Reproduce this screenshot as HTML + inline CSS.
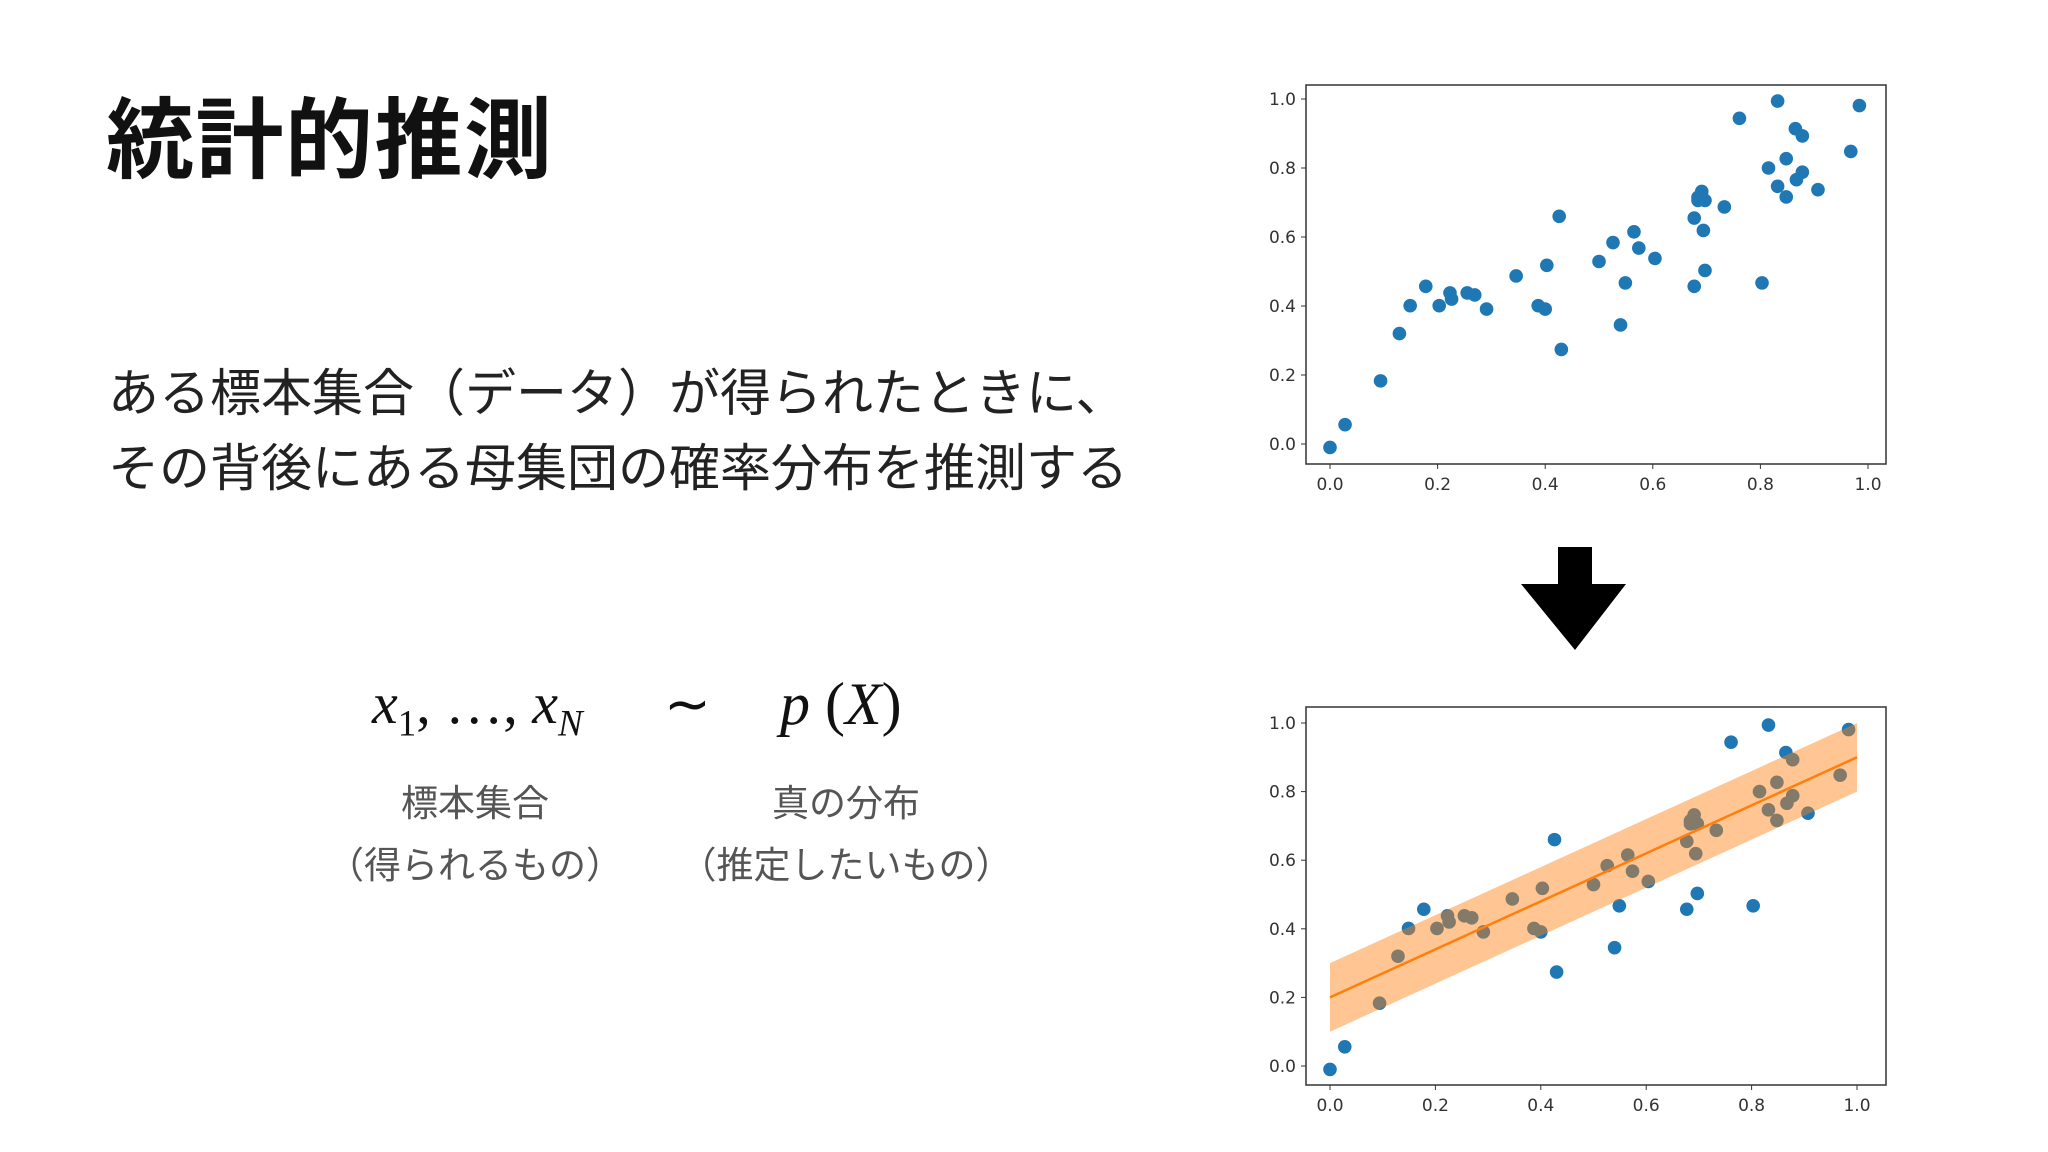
<!DOCTYPE html>
<html><head><meta charset="utf-8">
<style>
body{margin:0;background:#fff;}
#page{position:relative;width:2048px;height:1152px;overflow:hidden;background:#fff;font-family:"Liberation Sans","Noto Sans CJK JP",sans-serif;}
.t{position:absolute;white-space:nowrap;}
</style></head>
<body>
<div id="page">
<div class="t" style="left:106px;top:70px;font-size:88px;font-weight:bold;color:#111;letter-spacing:1.5px;">統計的推測</div>
<div class="t" style="left:108px;top:352px;font-size:51px;color:#222;">ある標本集合（データ）が得られたときに、</div>
<div class="t" style="left:108px;top:427px;font-size:51px;color:#222;">その背後にある母集団の確率分布を推測する</div>
<div class="t" style="left:372px;top:670px;font-size:58px;font-family:'Liberation Serif',serif;font-style:italic;color:#111;">x<sub style="font-size:37px;font-style:normal">1</sub><span style="font-style:normal">, …, </span>x<sub style="font-size:37px">N</sub></div>
<div class="t" style="left:664px;top:672px;font-size:56px;font-family:'Liberation Serif',serif;color:#111;">∼</div>
<div class="t" style="left:780px;top:670px;font-size:60px;font-family:'Liberation Serif',serif;font-style:italic;color:#111;">p <span style="font-style:normal">(</span>X<span style="font-style:normal">)</span></div>
<div class="t" style="left:475px;top:773px;transform:translateX(-50%);font-size:37px;color:#555;">標本集合</div>
<div class="t" style="left:475px;top:835px;transform:translateX(-50%);font-size:37px;color:#555;">（得られるもの）</div>
<div class="t" style="left:846px;top:773px;transform:translateX(-50%);font-size:37px;color:#555;">真の分布</div>
<div class="t" style="left:846px;top:835px;transform:translateX(-50%);font-size:37px;color:#555;">（推定したいもの）</div>
<svg id="arrow" style="position:absolute;left:0;top:0" width="2048" height="1152">
<polygon points="1558,547 1592,547 1592,584 1626,584 1575,650 1521,584 1558,584" fill="#000"/>
</svg>
<svg id="charts" style="position:absolute;left:0;top:0" width="2048" height="1152"></svg>
</div>
<script>
const xs=[0.0,0.028,0.094,0.129,0.149,0.178,0.203,0.223,0.226,0.255,0.269,0.291,0.346,0.387,0.4,0.403,0.426,0.43,0.5,0.526,0.54,0.549,0.565,0.574,0.604,0.677,0.677,0.684,0.691,0.684,0.697,0.694,0.697,0.733,0.761,0.803,0.815,0.832,0.832,0.848,0.848,0.865,0.867,0.878,0.878,0.907,0.968,0.984];
const ys=[-0.01,0.056,0.183,0.32,0.401,0.457,0.401,0.438,0.42,0.438,0.432,0.391,0.487,0.401,0.391,0.518,0.66,0.274,0.529,0.584,0.345,0.467,0.615,0.568,0.538,0.655,0.457,0.715,0.732,0.706,0.706,0.619,0.503,0.687,0.944,0.467,0.8,0.994,0.747,0.827,0.716,0.914,0.766,0.788,0.893,0.737,0.848,0.981];
const ticks=[0.0,0.2,0.4,0.6,0.8,1.0];
const fitIntercept=0.2, fitSlope=0.7, bandHalf=0.1;
const svg=document.getElementById('charts');
const NS='http://www.w3.org/2000/svg';
function mk(t,a){const e=document.createElementNS(NS,t);for(const k in a)e.setAttribute(k,a[k]);svg.appendChild(e);return e;}
function chart(cfg,fit,name){
  const X=v=>cfg.x0+(cfg.x1-cfg.x0)*v, Y=v=>cfg.y0+(cfg.y1-cfg.y0)*v;
  const fr=mk('rect',{x:cfg.fx,y:cfg.fy,width:cfg.fw,height:cfg.fh,fill:'#fff',stroke:'#333','stroke-width':1.5});
  
  
  ticks.forEach(t=>{
    let a=mk('line',{x1:X(t),x2:X(t),y1:cfg.fy+cfg.fh,y2:cfg.fy+cfg.fh+5,stroke:'#333'});
    
    
    let b=mk('text',{x:X(t),y:cfg.fy+cfg.fh+26,'text-anchor':'middle','font-size':17,fill:'#333','font-family':'DejaVu Sans, sans-serif'});
    b.textContent=t.toFixed(1);
    
    
    let c=mk('line',{x1:cfg.fx-5,x2:cfg.fx,y1:Y(t),y2:Y(t),stroke:'#333'});
    
    
    let d=mk('text',{x:cfg.fx-10,y:Y(t)+6,'text-anchor':'end','font-size':17,fill:'#333','font-family':'DejaVu Sans, sans-serif'});
    d.textContent=t.toFixed(1);
    
    
  });
  xs.forEach((x,i)=>{
    const p=mk('ellipse',{cx:X(x),cy:Y(ys[i]),rx:6.8,ry:6.8,fill:'#1f77b4'});
    
    
  });
  if(fit){
    const pts=[[0,fitIntercept+bandHalf],[1,fitIntercept+fitSlope+bandHalf],[1,fitIntercept+fitSlope-bandHalf],[0,fitIntercept-bandHalf]].map(q=>X(q[0])+','+Y(q[1])).join(' ');
    const band=mk('polygon',{points:pts,fill:'rgba(255,127,14,0.45)'});
    
    
    const ln=mk('line',{x1:X(0),y1:Y(fitIntercept),x2:X(1),y2:Y(fitIntercept+fitSlope),stroke:'#ff7f0e','stroke-width':2.5});
    
    
  }
}
chart({fx:1306,fy:85,fw:580,fh:379,x0:1330,x1:1868,y0:444,y1:99},false,'top-chart');
chart({fx:1306,fy:707,fw:580,fh:378,x0:1330,x1:1857,y0:1066,y1:723},true,'bottom-chart');
</script>
</body></html>
